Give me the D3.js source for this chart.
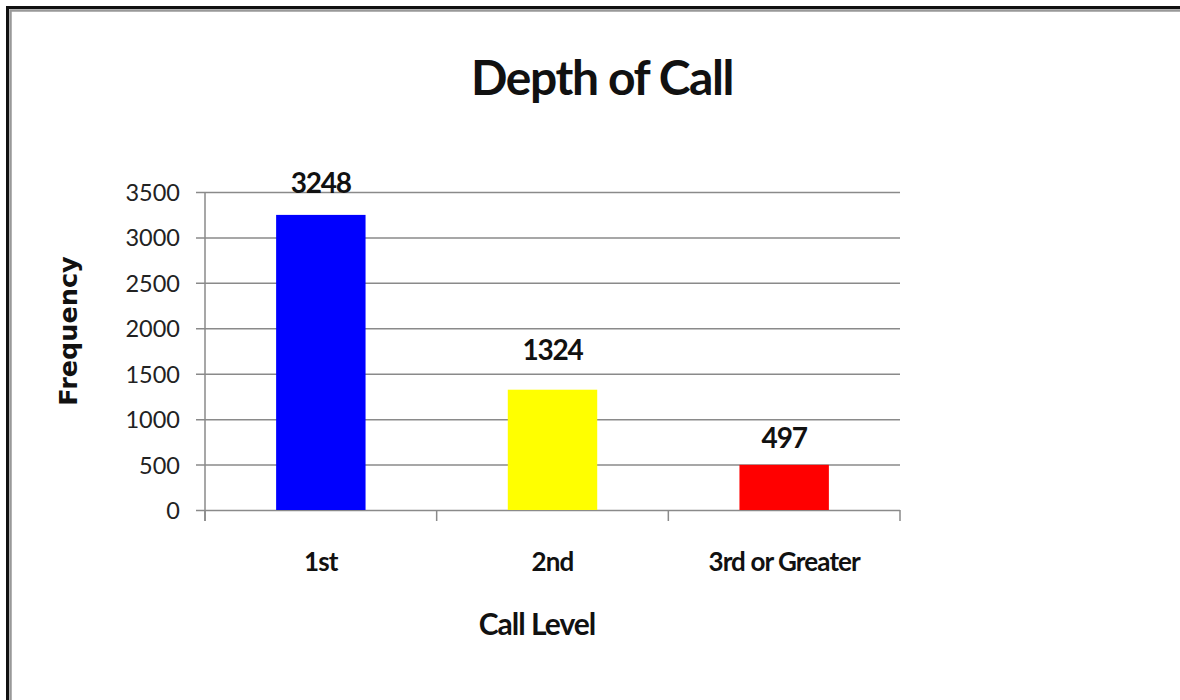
<!DOCTYPE html>
<html>
<head>
<meta charset="utf-8">
<script src="https://cdn.jsdelivr.net/npm/d3@7"></script>
<style>
  html, body { margin: 0; padding: 0; background: #fff; }
  svg { display: block; }
</style>
</head>
<body>
<svg id="chart" width="1180" height="700"></svg>
<script>
// ---- data ----
const categories = ["1st", "2nd", "3rd or Greater"];
const frequencies = [3248, 1324, 497];
const barColors = ["#0000ff", "#ffff00", "#ff0000"];
const yTicks = [0, 500, 1000, 1500, 2000, 2500, 3000, 3500];
const titleText = "Depth of Call";
const xTitle = "Call Level";
const yTitle = "Frequency";

// ---- layout (styling, not data) ----
const plot = { left: 205, right: 900, top: 192, bottom: 510 };
const barFrac = 0.386;
const labelLift = [22, 30, 17];

const svg = d3.select("#chart");

// frame
svg.append("rect").attr("x", 7.5).attr("y", 7.5).attr("width", 1300).attr("height", 800)
  .attr("fill", "none").attr("stroke", "#111").attr("stroke-width", 3);
svg.append("rect").attr("x", 10.5).attr("y", 10.5).attr("width", 1300).attr("height", 800)
  .attr("fill", "none").attr("stroke", "#999").attr("stroke-width", 2.5);

const x = d3.scaleBand().domain(categories).range([plot.left, plot.right]).padding(0);
const y = d3.scaleLinear().domain([0, 3500]).range([plot.bottom, plot.top]);

const gridColor = "#8a8a8a";

// gridlines + y ticks
const yAxis = d3.axisLeft(y).tickValues(yTicks).tickFormat(d3.format("d")).tickSize(9).tickPadding(16);
const gy = svg.append("g").attr("transform", `translate(${plot.left},0)`).call(yAxis);
gy.select(".domain").remove();
gy.selectAll(".tick line").attr("stroke", gridColor).attr("stroke-width", 1.5)
  .attr("x1", -9).attr("x2", plot.right - plot.left);
gy.selectAll(".tick text")
  .attr("font-family", "Lato, 'Open Sans', sans-serif")
  .attr("font-size", 23.5).attr("fill", "#222").attr("dy", "0.36em");

// y axis line
svg.append("line").attr("x1", plot.left).attr("x2", plot.left)
  .attr("y1", plot.top).attr("y2", plot.bottom + 11)
  .attr("stroke", gridColor).attr("stroke-width", 1.5);

// x axis category boundary ticks
const boundaries = categories.map(c => x(c)).concat([x(categories[categories.length - 1]) + x.bandwidth()]);
svg.append("g").selectAll("line").data(boundaries).join("line")
  .attr("x1", d => d).attr("x2", d => d)
  .attr("y1", plot.bottom).attr("y2", plot.bottom + 11)
  .attr("stroke", gridColor).attr("stroke-width", 1.5);

// bars
const bw = x.bandwidth() * barFrac;
svg.append("g").selectAll("rect").data(frequencies).join("rect")
  .attr("x", (d, i) => x(categories[i]) + (x.bandwidth() - bw) / 2)
  .attr("y", d => y(d))
  .attr("width", bw)
  .attr("height", d => y(0) - y(d))
  .attr("fill", (d, i) => barColors[i]);

// value labels
svg.append("g").selectAll("text").data(frequencies).join("text")
  .attr("x", (d, i) => x(categories[i]) + x.bandwidth() / 2)
  .attr("y", (d, i) => y(d) - labelLift[i])
  .attr("text-anchor", "middle")
  .attr("font-family", "Lato, 'Open Sans', sans-serif")
  .attr("font-weight", "bold").attr("font-size", 28)
  .attr("letter-spacing", "-1.2px")
  .attr("fill", "#111")
  .text(d => d);

// category labels
svg.append("g").selectAll("text").data(categories).join("text")
  .attr("x", d => x(d) + x.bandwidth() / 2)
  .attr("y", 571)
  .attr("text-anchor", "middle")
  .attr("font-family", "Lato, 'Open Sans', sans-serif")
  .attr("font-weight", "bold").attr("font-size", 26)
  .attr("letter-spacing", "-0.9px")
  .attr("fill", "#111")
  .text(d => d);

// title
svg.append("text").attr("x", 602).attr("y", 95).attr("text-anchor", "middle")
  .attr("font-family", "Lato, 'Open Sans', sans-serif")
  .attr("font-weight", "bold").attr("font-size", 48)
  .attr("letter-spacing", "-1.4px")
  .attr("fill", "#111").text(titleText);

// x axis title
svg.append("text").attr("x", 537).attr("y", 635).attr("text-anchor", "middle")
  .attr("font-family", "Lato, 'Open Sans', sans-serif")
  .attr("font-weight", "bold").attr("font-size", 30)
  .attr("letter-spacing", "-1px")
  .attr("fill", "#111").text(xTitle);

// y axis title
svg.append("text").attr("transform", "translate(77,331) rotate(-90)")
  .attr("text-anchor", "middle")
  .attr("font-family", "'DejaVu Sans', sans-serif")
  .attr("font-weight", "bold").attr("font-size", 25.5)
  .attr("fill", "#111").text(yTitle);
</script>
</body>
</html>
